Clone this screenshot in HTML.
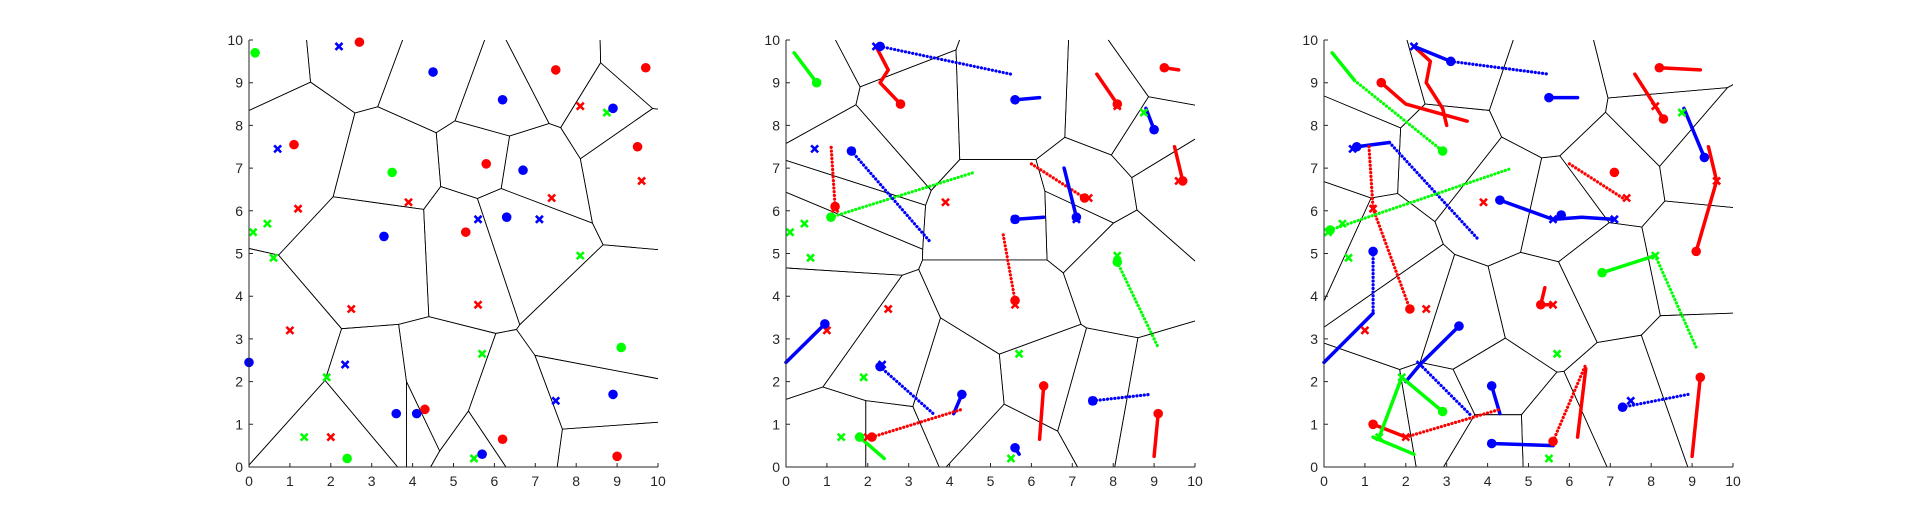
<!DOCTYPE html>
<html><head><meta charset="utf-8"><style>
html,body{margin:0;padding:0;background:#fff;}
svg{display:block;font-family:"Liberation Sans",sans-serif;}
</style></head><body>
<svg id="fig" width="1915" height="525" viewBox="0 0 1915 525" xmlns="http://www.w3.org/2000/svg"></svg>
<script>
const ticks=[0,1,2,3,4,5,6,7,8,9,10];
const tickLabels=["0","1","2","3","4","5","6","7","8","9","10"];
const crossRed=[[8.1,8.45],[7.4,6.3],[3.9,6.2],[9.6,6.7],[1.2,6.05],[2.5,3.7],[5.6,3.8],[1.0,3.2],[2.0,0.7]];
const crossBlue=[[2.2,9.85],[0.7,7.45],[5.6,5.8],[7.1,5.8],[2.35,2.4],[7.5,1.55]];
const crossGreen=[[8.75,8.3],[0.45,5.7],[0.1,5.5],[0.6,4.9],[8.1,4.95],[5.7,2.65],[1.9,2.1],[1.35,0.7],[5.5,0.2]];
const p1Red=[[2.7,9.95],[1.1,7.55],[7.5,9.3],[9.7,9.35],[5.8,7.1],[5.3,5.5],[9.5,7.5],[4.3,1.35],[6.2,0.65],[9.0,0.25]];
const p1Blue=[[4.5,9.25],[6.2,8.6],[8.9,8.4],[6.7,6.95],[6.3,5.85],[3.3,5.4],[0.0,2.45],[3.6,1.25],[4.1,1.25],[5.7,0.3],[8.9,1.7]];
const p1Green=[[0.15,9.7],[3.5,6.9],[2.4,0.2],[9.1,2.8]];
const p2Red=[[2.8,8.5],[8.1,8.5],[9.25,9.35],[9.7,6.7],[7.3,6.3],[1.2,6.1],[5.6,3.9],[6.3,1.9],[9.1,1.25],[2.1,0.7]];
const p2Blue=[[2.3,9.85],[5.6,8.6],[9.0,7.9],[1.6,7.4],[7.1,5.85],[5.6,5.8],[0.95,3.35],[2.3,2.35],[4.3,1.7],[7.5,1.55],[5.6,0.45]];
const p2Green=[[0.75,9.0],[1.1,5.85],[8.1,4.8],[1.8,0.7]];
const p2Trails=[
 ["r","s",[2.2,9.85,2.5,9.3,2.3,9.0,2.8,8.5]],["b","d",[2.3,9.85,5.5,9.2]],["g","s",[0.2,9.7,0.75,9.0]],
 ["r","s",[7.6,9.2,8.1,8.5]],["r","s",[9.25,9.35,9.6,9.3]],["b","s",[5.6,8.6,6.2,8.65]],["b","s",[8.8,8.4,9.0,7.9]],
 ["r","s",[9.5,7.5,9.7,6.7]],["r","d",[6.0,7.1,7.3,6.3]],["b","s",[6.8,7.0,7.1,5.85]],["b","s",[5.6,5.8,6.3,5.85]],
 ["g","d",[1.1,5.85,4.6,6.9]],["r","d",[1.2,6.1,1.1,7.55]],["b","d",[1.6,7.4,3.5,5.3]],["r","d",[5.6,3.9,5.3,5.5]],
 ["g","d",[8.1,4.8,9.1,2.8]],["b","s",[0.95,3.35,0.0,2.45]],["b","d",[2.3,2.35,3.6,1.25]],["b","s",[4.3,1.7,4.1,1.25]],
 ["b","d",[7.5,1.55,8.9,1.7]],["r","s",[6.3,1.9,6.2,0.65]],["r","s",[9.1,1.25,9.0,0.25]],["r","d",[2.1,0.7,4.3,1.35]],
 ["g","s",[1.8,0.7,2.4,0.2]],["b","s",[5.6,0.45,5.7,0.3]]];
const p3Red=[[1.4,9.0],[8.2,9.35],[8.3,8.15],[7.1,6.9],[9.1,5.05],[2.1,3.7],[5.3,3.8],[9.2,2.1],[5.6,0.6],[1.2,1.0]];
const p3Blue=[[3.1,9.5],[5.5,8.65],[9.3,7.25],[0.8,7.5],[4.3,6.25],[5.8,5.9],[1.2,5.05],[3.3,3.3],[4.1,1.9],[4.1,0.55],[7.3,1.4]];
const p3Green=[[0.15,5.55],[2.9,7.4],[6.8,4.55],[2.9,1.3]];
const p3Trails=[
 ["r","s",[1.4,9.0,2.0,8.5,3.5,8.1]],["r","s",[2.2,9.85,2.6,9.5,2.5,9.0,2.9,8.4,3.0,8.0]],["b","s",[2.2,9.85,3.1,9.5]],["b","d",[3.1,9.5,5.5,9.2]],
 ["g","s",[0.2,9.7,0.75,9.05]],["g","d",[0.75,9.05,2.9,7.4]],["r","s",[7.6,9.2,8.3,8.15]],["r","s",[8.2,9.35,9.2,9.3]],
 ["b","s",[5.5,8.65,6.2,8.65]],["b","s",[8.8,8.4,9.3,7.25]],["r","s",[9.4,7.5,9.6,6.7,9.1,5.05]],["r","d",[6.0,7.1,7.3,6.3]],
 ["b","s",[0.8,7.5,1.6,7.6]],["b","d",[1.6,7.6,3.8,5.3]],["r","d",[1.1,7.5,1.2,6.05]],["r","d",[1.2,6.05,2.1,3.7]],
 ["g","d",[0.15,5.55,4.6,7.0]],["b","s",[4.3,6.25,5.6,5.8,6.3,5.85,7.1,5.8]],["b","d",[1.2,5.05,1.2,3.6]],["b","s",[1.2,3.6,0.0,2.45]],
 ["r","s",[5.6,3.8,5.3,3.8,5.4,4.2]],["g","d",[8.1,4.95,9.1,2.8]],["g","s",[6.8,4.55,8.1,4.95]],["b","s",[3.3,3.3,2.35,2.4,2.0,2.0]],
 ["b","d",[2.35,2.4,3.6,1.2]],["b","s",[4.1,1.9,4.3,1.25]],["b","s",[4.1,0.55,5.6,0.5]],["r","d",[5.6,0.6,6.4,2.4]],
 ["r","s",[6.4,2.3,6.2,0.7]],["r","s",[9.2,2.1,9.0,0.25]],["b","d",[7.3,1.4,8.9,1.7]],["r","s",[1.2,1.0,2.0,0.7]],
 ["r","d",[2.0,0.7,4.3,1.35]],["g","s",[1.35,0.7,1.9,2.1,2.9,1.3]],["g","s",[1.2,0.7,2.2,0.3]]];
const panels=[
 {x0:249,x1:658,red:p1Red,blue:p1Blue,green:p1Green,trails:[]},
 {x0:786,x1:1195,red:p2Red,blue:p2Blue,green:p2Green,trails:p2Trails},
 {x0:1324,x1:1733,red:p3Red,blue:p3Blue,green:p3Green,trails:p3Trails}];
const col={r:"#ff0000",b:"#0000ff",g:"#00ff00"};
const NS="http://www.w3.org/2000/svg";
const svg=document.getElementById('fig');
function mk(t,a,p){const e=document.createElementNS(NS,t);for(const k in a)e.setAttribute(k,a[k]);(p||svg).appendChild(e);return e;}
function clip(poly,a,b,c){
 const out=[];for(let i=0;i<poly.length;i++){const P=poly[i],Q=poly[(i+1)%poly.length];
 const fp=a*P[0]+b*P[1]-c,fq=a*Q[0]+b*Q[1]-c;
 if(fp<=0)out.push(P);
 if((fp<0&&fq>0)||(fp>0&&fq<0)){const t=fp/(fp-fq);out.push([P[0]+t*(Q[0]-P[0]),P[1]+t*(Q[1]-P[1])]);}}
 return out;}
panels.forEach((pn,pi)=>{
 const g=mk('g',{});
 
 
 const y0=467,y1=40;
 const sx=v=>pn.x0+v/10*(pn.x1-pn.x0), sy=v=>y0-v/10*(y0-y1);
 const sites=pn.red.concat(pn.blue,pn.green);
 const vg=mk('g',{},g);
 
 
 sites.forEach((s,i)=>{let poly=[[0,0],[10,0],[10,10],[0,10]];
  sites.forEach((o,j)=>{if(i===j)return;const a=o[0]-s[0],b=o[1]-s[1];const c=(o[0]*o[0]+o[1]*o[1]-s[0]*s[0]-s[1]*s[1])/2;poly=clip(poly,a,b,c);});
  for(let k=0;k<poly.length;k++){const P=poly[k],Q=poly[(k+1)%poly.length];
   const onB=(Math.abs(P[0]-Q[0])<1e-6&&(Math.abs(P[0])<1e-6||Math.abs(P[0]-10)<1e-6))||(Math.abs(P[1]-Q[1])<1e-6&&(Math.abs(P[1])<1e-6||Math.abs(P[1]-10)<1e-6));
   if(onB)continue;
   const l=mk('line',{x1:sx(P[0]),y1:sy(P[1]),x2:sx(Q[0]),y2:sy(Q[1]),stroke:"#000","stroke-width":0.8},vg);
   
   }
 });
 pn.trails.forEach(tr=>{const pts=[];for(let k=0;k<tr[2].length;k+=2)pts.push(sx(tr[2][k])+','+sy(tr[2][k+1]));
  const a={points:pts.join(' '),fill:"none",stroke:col[tr[0]],"stroke-width":tr[1]==="s"?3.5:3.2,"stroke-linecap":"round","stroke-linejoin":"round"};
  if(tr[1]==="d")a["stroke-dasharray"]="0.1 3.6";
  const pl=mk('polyline',a,g);
  
  });
 [[crossRed,'r'],[crossBlue,'b'],[crossGreen,'g']].forEach(([arr,c])=>arr.forEach(p=>{
  const x=sx(p[0]),y=sy(p[1]),d=3.5;
  const pa=mk('path',{d:`M${x-d},${y-d}L${x+d},${y+d}M${x-d},${y+d}L${x+d},${y-d}`,stroke:col[c],"stroke-width":2.6},g);
  
  }));
 [[pn.red,'r'],[pn.blue,'b'],[pn.green,'g']].forEach(([arr,c])=>arr.forEach(p=>{
  const ci=mk('circle',{cx:sx(p[0]),cy:sy(p[1]),r:4.8,fill:col[c]},g);
  
  }));
 const ax=mk('path',{d:`M${pn.x0},${y1}L${pn.x0},${y0}L${pn.x1},${y0}`,stroke:"#262626","stroke-width":1,fill:"none"},g);
 
 
 ticks.forEach((t,k)=>{
  const x=sx(t),y=sy(t);
  const tk=mk('path',{d:`M${x},${y0}L${x},${y0-4}M${pn.x0},${y}L${pn.x0+4},${y}`,stroke:"#262626","stroke-width":1},g);
  
  
  const tx=mk('text',{x:x,y:y0+19,"text-anchor":"middle","font-size":14,fill:"#262626"},g);
  tx.textContent=tickLabels[k];
  
  
  const ty=mk('text',{x:pn.x0-6,y:y+5,"text-anchor":"end","font-size":14,fill:"#262626"},g);
  ty.textContent=tickLabels[k];
  
  
 });
});
</script>
</body></html>
